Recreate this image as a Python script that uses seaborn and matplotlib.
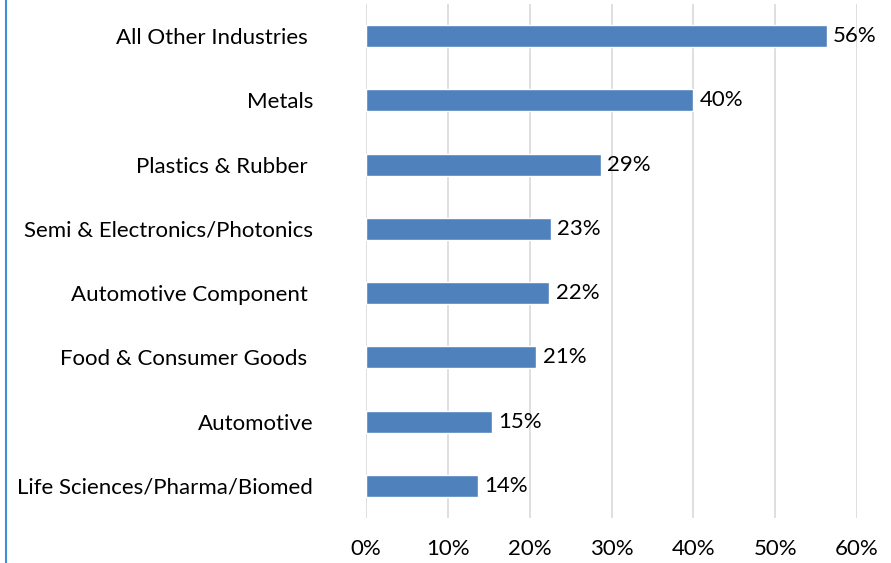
import matplotlib
matplotlib.use("Agg")
import matplotlib.pyplot as plt
import seaborn as sns
import pandas as pd
from matplotlib.lines import Line2D
from matplotlib.ticker import FuncFormatter

sns.set_style("white")
plt.rcParams['font.family'] = ['Lato', 'DejaVu Sans']

# some labels carry a trailing space in the original
industries = [
    'All Other Industries ', 'Metals', 'Plastics & Rubber ',
    'Semi & Electronics/Photonics', 'Automotive Component ',
    'Food & Consumer Goods ', 'Automotive', 'Life Sciences/Pharma/Biomed',
]
shares = [56.3, 40.0, 28.7, 22.6, 22.4, 20.8, 15.4, 13.7]
ticks = [0, 10, 20, 30, 40, 50, 60]

df = pd.DataFrame({'Industry': industries, 'Share': shares})

fig = plt.figure(figsize=(8.91, 5.63), dpi=100)
ax = fig.add_axes([366 / 891, 45 / 563, 491 / 891, 514 / 563])

sns.barplot(data=df, x='Share', y='Industry', color='#4F81BD',
            width=0.34, saturation=1, ax=ax, zorder=3)

ax.set_xlim(0, 60)
ax.set_xticks(ticks)
ax.xaxis.set_major_formatter(FuncFormatter(lambda v, p: f'{v:.0f}%'))
ax.grid(axis='x', color='#d9d9d9', linewidth=1.2, zorder=0)
for s in ax.spines.values():
    s.set_visible(False)
ax.set_xlabel('')
ax.set_ylabel('')
ax.tick_params(axis='x', labelsize=16, pad=15, length=0, colors='#000000')
ax.tick_params(axis='y', labelsize=16, pad=38, length=0, colors='#000000')

for i, v in enumerate(shares):
    ax.text(v + 0.8, i, f'{round(v):.0f}%', va='center', ha='left',
            fontsize=16, color='#000000')

fig.add_artist(Line2D([5.5 / 891, 5.5 / 891], [0, 1], color='#3d8fd6',
                      linewidth=1.5, transform=fig.transFigure))

fig.savefig('out.png', dpi=100)
